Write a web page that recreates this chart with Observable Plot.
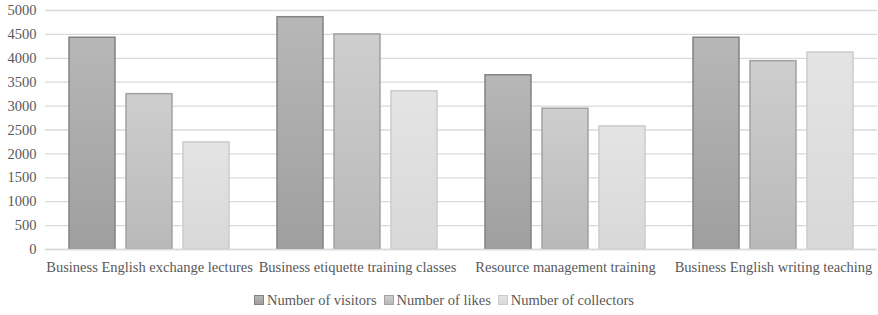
<!DOCTYPE html>
<html>
<head>
<meta charset="utf-8">
<script src="https://cdn.jsdelivr.net/npm/d3@7"></script>
<script src="https://cdn.jsdelivr.net/npm/@observablehq/plot@0.6"></script>
<style>
  html, body { margin: 0; padding: 0; background: #fff; }
  #chart { width: 878px; }
  #chart svg text { font-family: 'Liberation Serif' !important; }
  .legend { display: flex; justify-content: center; align-items: center; gap: 7px;
    font-family: 'Liberation Serif' !important; font-size: 14.5px; color: #595959;
    height: 30px; margin-left: 10px; }
  .legend span.item { display: inline-flex; align-items: center; font-family: 'Liberation Serif'; }
  .legend .sw { display: inline-block; width: 10px; height: 10px; margin-right: 3px; box-sizing: border-box; }
</style>
</head>
<body>
<div id="chart"></div>
<script>
const categories = [
  "Business English exchange lectures",
  "Business etiquette training classes",
  "Resource management training",
  "Business English writing teaching"
];
const seriesNames = ["Number of visitors", "Number of likes", "Number of collectors"];
const visitors = [4430, 4860, 3645, 4430];
const likes = [3250, 4500, 2945, 3940];
const collectors = [2240, 3310, 2575, 4120];
const yTicks = [0, 500, 1000, 1500, 2000, 2500, 3000, 3500, 4000, 4500, 5000];

const seriesValues = [visitors, likes, collectors];
const data = [];
categories.forEach((c, i) => {
  seriesNames.forEach((s, j) => data.push({category: c, series: s, value: seriesValues[j][i]}));
});

const styles = [
  {id: "gv", top: "#b7b7b7", bottom: "#9f9f9f", stroke: "#838383", key: "#000001"},
  {id: "gl", top: "#cecece", bottom: "#b9b9b9", stroke: "#a2a2a2", key: "#000002"},
  {id: "gc", top: "#e4e4e4", bottom: "#d8d8d8", stroke: "#cbcbcb", key: "#000003"}
];

const plot = Plot.plot({
  width: 878,
  height: 285,
  marginTop: 10,
  marginBottom: 36,
  marginLeft: 44,
  marginRight: 0,
  style: "font-family: 'Liberation Serif'; font-size: 14.5px; color: #595959; background: #fff;",
  fx: {domain: categories, padding: 0, label: null, axis: "bottom", tickSize: 0, tickPadding: 12},
  x: {domain: seriesNames, paddingInner: 0.19, paddingOuter: 0.4, axis: null},
  y: {domain: [0, 5000], ticks: yTicks, tickSize: 0, tickPadding: 9, tickFormat: d => String(d), label: null},
  marks: [
    Plot.ruleY(yTicks, {stroke: "#d9d9d9", strokeWidth: 1.3}),
    ...styles.map((st, j) => Plot.barY(data.filter(d => d.series === seriesNames[j]), {
      fx: "category", x: "series", y: "value",
      fill: st.key, stroke: st.stroke, strokeWidth: 1.5
    })),
    Plot.ruleY([0], {stroke: "#d9d9d9", strokeWidth: 1.3})
  ]
});

const svg = d3.select(plot);
const defs = svg.insert("defs", ":first-child");
styles.forEach(st => {
  const g = defs.append("linearGradient").attr("id", st.id).attr("x1", 0).attr("y1", 0).attr("x2", 0).attr("y2", 1);
  g.append("stop").attr("offset", "0%").attr("stop-color", st.top);
  g.append("stop").attr("offset", "100%").attr("stop-color", st.bottom);
  svg.selectAll(`[fill="${st.key}"]`).attr("fill", `url(#${st.id})`);
});
svg.selectAll("rect").attr("fill", function() {
  const f = this.getAttribute("fill");
  const st = styles.find(s => s.key === f);
  return st ? `url(#${st.id})` : f;
});
svg.attr("font-family", "Liberation Serif");

document.getElementById("chart").appendChild(plot);

const legend = d3.select("#chart").append("div").attr("class", "legend");
seriesNames.forEach((s, j) => {
  const item = legend.append("span").attr("class", "item");
  item.append("span").attr("class", "sw")
    .style("background", `linear-gradient(${styles[j].top}, ${styles[j].bottom})`)
    .style("border", `1px solid ${styles[j].stroke}`);
  item.append("span").text(s);
});
</script>
</body>
</html>
